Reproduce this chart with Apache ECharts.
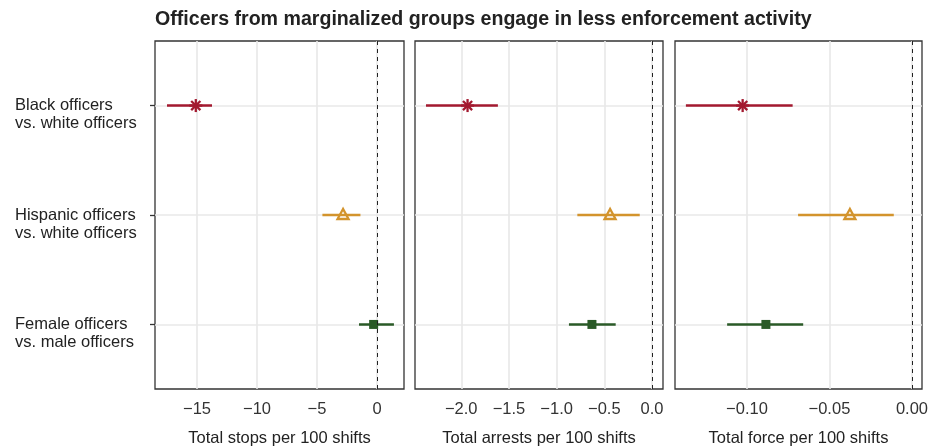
<!DOCTYPE html>
<html>
<head>
<meta charset="utf-8">
<script src="https://cdn.jsdelivr.net/npm/echarts@6/dist/echarts.min.js"></script>
<style>
  html, body { margin: 0; background: #fff; }
  #chart { width: 940px; height: 448px; }
</style>
</head>
<body>
<div id="chart"></div>
<script>
// comparison rows, top to bottom
const groups = [
  'Black officers\nvs. white officers',
  'Hispanic officers\nvs. white officers',
  'Female officers\nvs. male officers'
];
const rows = [1, 2, 3];
const markers = ['star', 'triangle', 'square'];
const colors = ['#a3192f', '#d3942d', '#2a5a27'];

const panelNames = ['Total stops per 100 shifts', 'Total arrests per 100 shifts', 'Total force per 100 shifts'];

// estimates with 95% intervals
const stopsEst = [-15.1, -2.83, -0.28];
const stopsLo = [-17.5, -4.55, -1.5];
const stopsHi = [-13.75, -1.38, 1.41];

const arrestsEst = [-1.934, -0.44, -0.63];
const arrestsLo = [-2.37, -0.783, -0.871];
const arrestsHi = [-1.616, -0.129, -0.381];

const forceEst = [-0.1026, -0.0376, -0.0885];
const forceLo = [-0.137, -0.069, -0.112];
const forceHi = [-0.0723, -0.011, -0.0659];

// tick labels per panel
const stopsTicks = [-15, -10, -5, 0];
const arrestsTicks = [-2, -1.5, -1, -0.5, 0];
const forceTicks = [-0.1, -0.05, 0];

const panels = [
  {est: stopsEst, lo: stopsLo, hi: stopsHi, ticks: stopsTicks, digits: 0, min: -18.5, max: 2.25},
  {est: arrestsEst, lo: arrestsLo, hi: arrestsHi, ticks: arrestsTicks, digits: 1, min: -2.485, max: 0.115},
  {est: forceEst, lo: forceLo, hi: forceHi, ticks: forceTicks, digits: 2, min: -0.1436, max: 0.0061}
];

const font = '"Liberation Sans", Arial, Helvetica, sans-serif';
const textColor = '#222';
const gridColor = '#e8e8e8';

function renderMark(kind, color) {
  return function (params, api) {
    const y = api.value(3);
    const a = api.coord([api.value(0), y]);
    const b = api.coord([api.value(2), y]);
    const c = api.coord([api.value(1), y]);
    const children = [{
      type: 'line',
      shape: {x1: a[0], y1: a[1], x2: b[0], y2: b[1]},
      style: {stroke: color, lineWidth: 2.5}
    }];
    if (kind === 'star') {
      const r = 6.5;
      [0, 45, 90, 135].forEach(function (deg) {
        const t = deg * Math.PI / 180;
        const dx = r * Math.cos(t), dy = r * Math.sin(t);
        children.push({
          type: 'line',
          shape: {x1: c[0] - dx, y1: c[1] - dy, x2: c[0] + dx, y2: c[1] + dy},
          style: {stroke: color, lineWidth: 2.3}
        });
      });
    } else if (kind === 'triangle') {
      children.push({
        type: 'polygon',
        shape: {points: [[c[0], c[1] - 6], [c[0] - 5.5, c[1] + 4], [c[0] + 5.5, c[1] + 4]]},
        style: {stroke: color, fill: 'none', lineWidth: 2.3}
      });
    } else {
      children.push({
        type: 'rect',
        shape: {x: c[0] - 4.5, y: c[1] - 4.5, width: 9, height: 9},
        style: {fill: color}
      });
    }
    return {type: 'group', children: children};
  };
}

const grid = [
  {left: 155, top: 41, width: 249, height: 348},
  {left: 415, top: 41, width: 248, height: 348},
  {left: 675, top: 41, width: 247, height: 348}
].map(function (g) {
  return Object.assign(g, {
    show: true, borderColor: '#333', borderWidth: 1.3, backgroundColor: 'transparent',
    outerBoundsMode: 'none', containLabel: false
  });
});

const xAxis = panels.map(function (p, i) {
  return {
    gridIndex: i,
    type: 'value',
    min: p.min,
    max: p.max,
    axisLine: {show: false, onZero: false},
    axisTick: {show: false, customValues: p.ticks},
    axisLabel: {
      customValues: p.ticks,
      formatter: function (v) { return v.toFixed(p.digits).replace('-', '\u2212'); },
      fontSize: 16.5, color: '#333', fontFamily: font, margin: 12
    },
    splitLine: {show: true, lineStyle: {color: gridColor, width: 1.6}},
    name: panelNames[i],
    nameLocation: 'middle',
    nameGap: 41,
    nameTextStyle: {fontSize: 16.5, color: textColor, fontFamily: font}
  };
});

const yAxis = panels.map(function (p, i) {
  return {
    gridIndex: i,
    type: 'value',
    inverse: true,
    min: 0.41,
    max: 3.59,
    axisLine: {show: false, onZero: false},
    axisTick: {show: i === 0, length: 5, customValues: rows, lineStyle: {color: '#333', width: 1.3}},
    axisLabel: {
      show: i === 0,
      customValues: rows,
      // leading blank line keeps the first text line level with the row
      formatter: function (v) { return '\n' + groups[v - 1]; },
      align: 'left',
      verticalAlign: 'middle',
      margin: 140,
      lineHeight: 18,
      fontSize: 16.5, color: textColor, fontFamily: font
    },
    splitLine: {show: true, lineStyle: {color: gridColor, width: 1.6}}
  };
});

const series = [];
panels.forEach(function (p, i) {
  rows.forEach(function (r, g) {
    const s = {
      type: 'custom',
      xAxisIndex: i,
      yAxisIndex: i,
      renderItem: renderMark(markers[g], colors[g]),
      encode: {x: [0, 1, 2], y: 3},
      data: [[p.lo[g], p.est[g], p.hi[g], r]],
      silent: true
    };
    if (g === 0) {
      s.markLine = {
        silent: true,
        symbol: 'none',
        label: {show: false},
        lineStyle: {color: '#222', type: [4, 4], width: 1},
        data: [{xAxis: 0}]
      };
    }
    series.push(s);
  });
});

const chart = echarts.init(document.getElementById('chart'));
chart.setOption({
  animation: false,
  title: {
    text: 'Officers from marginalized groups engage in less enforcement activity',
    left: 150,
    top: 5,
    textStyle: {fontSize: 19.6, fontWeight: 'bold', color: textColor, fontFamily: font}
  },
  grid: grid,
  xAxis: xAxis,
  yAxis: yAxis,
  series: series
});
</script>
</body>
</html>
